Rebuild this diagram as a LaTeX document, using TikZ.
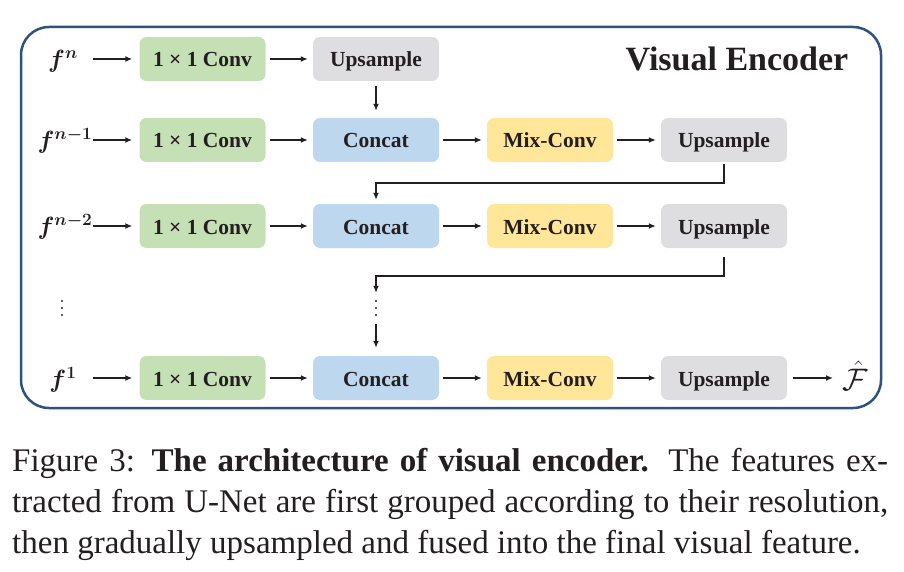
\documentclass[tikz,border=0pt]{standalone}
\usepackage{amsmath}
\usepackage{graphicx}
\usepackage{fontspec}
\setmainfont{Liberation Serif}
\usetikzlibrary{arrows.meta}
\definecolor{cgreen}{RGB}{197,224,180}
\definecolor{cblue}{RGB}{189,215,238}
\definecolor{cyellow}{RGB}{255,230,153}
\definecolor{cgray}{RGB}{222,222,224}
\definecolor{cframe}{RGB}{44,83,124}
\definecolor{ink}{RGB}{35,31,32}
\begin{document}
\begin{tikzpicture}[x=1pt,y=-1pt,
  blk/.style={rounded corners=7pt, minimum width=126pt, minimum height=44pt, inner sep=0pt,
    text height=16pt, text depth=0pt,
    text=ink, font=\fontsize{21.5}{24}\selectfont\bfseries},
  convbox/.style={blk, fill=cgreen},
  catbox/.style={blk, fill=cblue},
  mixbox/.style={blk, fill=cyellow},
  upbox/.style={blk, fill=cgray},
  arr/.style={draw=ink, line width=1.5pt, -{Latex[length=7pt,width=6pt]}},
  lbl/.style={text=ink, font=\fontsize{25}{30}\selectfont, inner sep=0pt},
  dotnode/.style={minimum height=16pt, minimum width=4pt, inner sep=0pt},
]
\useasboundingbox (0,0) rectangle (904,572);

% frame
\node[draw=cframe, line width=2.5pt, rounded corners=28pt, minimum width=860pt, minimum height=381pt, inner sep=0pt] (frame) at (451,217.5) {};

% title
\node[text=ink, font=\fontsize{34}{40}\selectfont\bfseries, inner sep=0pt] (title) at (737,59) {Visual Encoder};

% row 1
\node[lbl] (l1) at (63,61) {$\boldsymbol{f^{n}}$};
\node[convbox] (cv1) at (202.5,59) {1 × 1 Conv};
\node[upbox] (up1) at (376,59) {Upsample};
% row 2
\node[lbl] (l2) at (65,141) {$\boldsymbol{f^{n-1}}$};
\node[convbox] (cv2) at (202.5,140) {1 × 1 Conv};
\node[catbox] (cc2) at (376,140) {Concat};
\node[mixbox] (mx2) at (550,140) {Mix-Conv};
\node[upbox] (up2) at (724,140) {Upsample};
% row 3
\node[lbl] (l3) at (65,227) {$\boldsymbol{f^{n-2}}$};
\node[convbox] (cv3) at (202.5,226) {1 × 1 Conv};
\node[catbox] (cc3) at (376,226) {Concat};
\node[mixbox] (mx3) at (550,226) {Mix-Conv};
\node[upbox] (up3) at (724,226) {Upsample};
% dots
\node[dotnode] (vdl) at (62,308) {};
\node[dotnode] (vdm) at (376,308) {};
\foreach \n in {vdl,vdm} {
  \foreach \d in {-7,0,7} \fill[ink] ([yshift=\d pt]\n.center) circle (1.2pt);
}
% row 4
\node[lbl] (l4) at (63,380) {$\boldsymbol{f^{1}}$};
\node[convbox] (cv4) at (202.5,378) {1 × 1 Conv};
\node[catbox] (cc4) at (376,378) {Concat};
\node[mixbox] (mx4) at (550,378) {Mix-Conv};
\node[upbox] (up4) at (724,378) {Upsample};
\node[lbl] (Fh) at (855,376) {\scalebox{1.25}{$\hat{\mathcal{F}}$}};

% start/end coordinates
\coordinate (s1) at (93,59);
\coordinate (s2) at (93,140);
\coordinate (s3) at (93,226);
\coordinate (s4) at (93,378);
\coordinate (e4) at (833,378);
\coordinate (k1) at (376,183);
\coordinate (k2) at (376,276);

% label arrows
\foreach \i in {1,2,3,4} \draw[arr, shorten >=7pt] (s\i) -- (cv\i);
% horizontal box arrows
\draw[arr, shorten <=4pt, shorten >=5pt] (cv1) -- (up1);
\foreach \i in {2,3,4} {
  \draw[arr, shorten <=4pt, shorten >=5pt] (cv\i) -- (cc\i);
  \draw[arr, shorten <=4pt, shorten >=5pt] (cc\i) -- (mx\i);
  \draw[arr, shorten <=4pt, shorten >=5pt] (mx\i) -- (up\i);
}
\draw[arr, shorten <=6pt] (up4) -- (e4);
% vertical
\draw[arr, shorten <=5pt, shorten >=7pt] (up1) -- (cc2);
\draw[arr, shorten >=4pt] ([yshift=-2pt]up2.south) |- (k1) -- (cc3.north);
\draw[arr, shorten >=7pt] ([yshift=-9pt]up3.south) |- (k2) -- (vdm.north);
\draw[arr, shorten <=8pt, shorten >=8pt] (vdm.south) -- (cc4.north);

% caption
\node[anchor=north west, inner sep=0pt, text width=876pt, align=justify, text=ink,
  font=\fontsize{33}{41}\selectfont] (cap) at (12,448)
  {Figure 3: \textbf{The architecture of visual encoder.} The features ex-\linebreak
   tracted from U-Net are first grouped according to their resolution,\linebreak
   then gradually upsampled and fused into the final visual feature.};
\end{tikzpicture}
\end{document}
